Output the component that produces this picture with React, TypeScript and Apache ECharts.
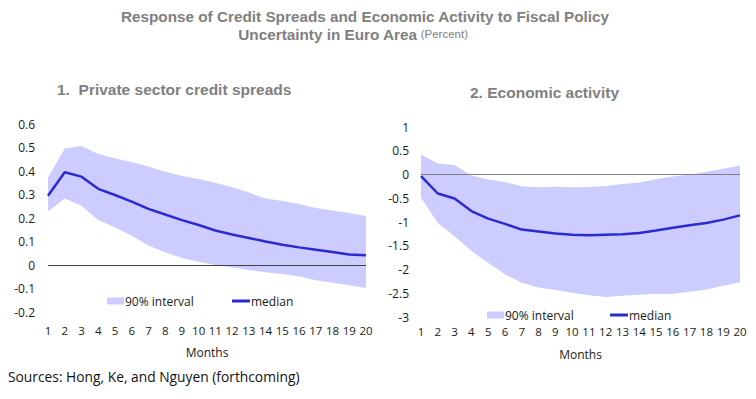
import React, { useEffect, useRef } from "react";
import * as echarts from "echarts";

const months = ["1", "2", "3", "4", "5", "6", "7", "8", "9", "10", "11", "12", "13", "14", "15", "16", "17", "18", "19", "20"];

const spreadMedian = [0.295, 0.395, 0.376, 0.324, 0.298, 0.27, 0.239, 0.215, 0.191, 0.17, 0.147, 0.13, 0.115, 0.1, 0.086, 0.075, 0.065, 0.055, 0.045, 0.041];
const spreadUpper = [0.372, 0.496, 0.506, 0.472, 0.454, 0.437, 0.419, 0.397, 0.379, 0.366, 0.35, 0.331, 0.308, 0.283, 0.272, 0.26, 0.243, 0.232, 0.221, 0.209];
const spreadLower = [0.228, 0.283, 0.252, 0.192, 0.161, 0.124, 0.083, 0.054, 0.03, 0.014, 0.0, -0.011, -0.021, -0.031, -0.038, -0.048, -0.065, -0.076, -0.086, -0.098];

const activityMedian = [-0.035, -0.4, -0.505, -0.77, -0.93, -1.04, -1.16, -1.2, -1.24, -1.27, -1.28, -1.27, -1.26, -1.23, -1.18, -1.12, -1.07, -1.02, -0.95, -0.86];
const activityUpper = [0.42, 0.23, 0.2, -0.02, -0.105, -0.16, -0.245, -0.27, -0.26, -0.27, -0.265, -0.24, -0.2, -0.17, -0.1, -0.04, 0.0, 0.06, 0.12, 0.19];
const activityLower = [-0.49, -1.02, -1.3, -1.61, -1.86, -2.1, -2.28, -2.38, -2.43, -2.49, -2.54, -2.58, -2.55, -2.53, -2.51, -2.51, -2.47, -2.42, -2.34, -2.27];

const spreadAxis = { min: -0.2, max: 0.6, interval: 0.1 };
const activityAxis = { min: -3, max: 1, interval: 0.5 };

const mainTitle = "Response of Credit Spreads and Economic Activity to Fiscal Policy";
const mainTitle2 = "Uncertainty in Euro Area";
const unitText = "(Percent)";
const panel1Title = "1.  Private sector credit spreads";
const panel2Title = "2. Economic activity";
const sourceText = "Sources: Hong, Ke, and Nguyen (forthcoming)";
const bandName = "90% interval";
const medianName = "median";

const BAND = "#ccccff";
const MEDIAN = "#2b2bd0";
const UI_FONT = "'Open Sans', 'Noto Sans', sans-serif";
const TITLE_FONT = "'Liberation Sans', Arial, sans-serif";

export default function App() {
  const ref = useRef<HTMLDivElement>(null);

  useEffect(() => {
    if (!ref.current) return;
    const chart = echarts.init(ref.current, undefined, { renderer: "svg" });

    const axisLabel = { color: "#1a1a1a", fontSize: 11.5, fontFamily: UI_FONT };
    const legendText = { color: "#1a1a1a", fontSize: 12, fontFamily: UI_FONT, padding: [0, 0, 0, -4] };

    const bandSeries = (idx: number, lower: number[], upper: number[]) => [
      {
        type: "line",
        name: "base" + idx,
        xAxisIndex: idx,
        yAxisIndex: idx,
        data: lower,
        stack: "band" + idx,
        stackStrategy: "all",
        symbol: "none",
        silent: true,
        lineStyle: { opacity: 0, width: 0 },
        z: 1,
      },
      {
        type: "line",
        name: bandName,
        xAxisIndex: idx,
        yAxisIndex: idx,
        data: upper.map((u, i) => +(u - lower[i]).toFixed(4)),
        stack: "band" + idx,
        stackStrategy: "all",
        symbol: "none",
        silent: true,
        lineStyle: { opacity: 0, width: 0 },
        itemStyle: { color: BAND },
        areaStyle: { color: BAND, opacity: 1 },
        z: 1,
      },
    ];

    const medianSeries = (idx: number, data: number[], zeroColor: string) => ({
      type: "line",
      name: medianName,
      xAxisIndex: idx,
      yAxisIndex: idx,
      data,
      symbol: "none",
      lineStyle: { color: MEDIAN, width: 2.5 },
      itemStyle: { color: MEDIAN },
      z: 3,
      markLine: {
        silent: true,
        symbol: "none",
        label: { show: false },
        lineStyle: { color: zeroColor, width: 1.2, type: "solid" },
        data: [{ yAxis: 0 }],
        z: 2,
      },
    });

    const bandLegend = (left: number, top: number) => ({
      left,
      top,
      itemWidth: 17,
      itemHeight: 7,
      selectedMode: false,
      textStyle: legendText,
      data: [{ name: bandName, icon: "rect" }],
    });
    const medianLegend = (left: number, top: number) => ({
      left,
      top,
      itemWidth: 18,
      itemHeight: 3,
      selectedMode: false,
      textStyle: legendText,
      data: [{ name: medianName, icon: "rect" }],
    });

    const option = {
      animation: false,
      backgroundColor: "#ffffff",
      textStyle: { fontFamily: UI_FONT },
      graphic: [
        {
          type: "text",
          x: 365,
          y: 16,
          style: {
            text: mainTitle,
            align: "center",
            verticalAlign: "middle",
            fill: "#7f7f7f",
            font: "bold 15.3px " + TITLE_FONT,
          },
        },
        {
          type: "text",
          x: 353,
          y: 34,
          style: {
            text: "{b|" + mainTitle2 + "} {s|" + unitText + "}",
            align: "center",
            verticalAlign: "middle",
            rich: {
              b: { fill: "#7f7f7f", font: "bold 15.3px " + TITLE_FONT },
              s: { fill: "#7f7f7f", font: "11.5px " + TITLE_FONT },
            },
          },
        },
        {
          type: "text",
          x: 57,
          y: 89,
          style: {
            text: panel1Title,
            align: "left",
            verticalAlign: "middle",
            fill: "#7f7f7f",
            font: "bold 15.5px " + TITLE_FONT,
          },
        },
        {
          type: "text",
          x: 470,
          y: 92,
          style: {
            text: panel2Title,
            align: "left",
            verticalAlign: "middle",
            fill: "#7f7f7f",
            font: "bold 15.5px " + TITLE_FONT,
          },
        },
        {
          type: "text",
          x: 8,
          y: 376,
          style: {
            text: sourceText,
            align: "left",
            verticalAlign: "middle",
            fill: "#111",
            font: "13.8px " + UI_FONT,
          },
        },
      ],
      legend: [
        bandLegend(102, 290),
        medianLegend(227, 290),
        bandLegend(482, 304),
        medianLegend(605, 304),
      ],
      grid: [
        { left: 48, top: 124, width: 318, height: 188 },
        { left: 421, top: 127, width: 319, height: 190 },
      ],
      xAxis: [
        {
          type: "category",
          gridIndex: 0,
          data: months,
          boundaryGap: false,
          axisLine: { show: false },
          axisTick: { show: false },
          axisLabel: { ...axisLabel, interval: 0, margin: 12 },
          name: "Months",
          nameLocation: "middle",
          nameGap: 34,
          nameTextStyle: { color: "#1a1a1a", fontSize: 12, fontFamily: UI_FONT },
        },
        {
          type: "category",
          gridIndex: 1,
          data: months,
          boundaryGap: false,
          axisLine: { show: false },
          axisTick: { show: false },
          axisLabel: { ...axisLabel, interval: 0, margin: 8 },
          name: "Months",
          nameLocation: "middle",
          nameGap: 31,
          nameTextStyle: { color: "#1a1a1a", fontSize: 12, fontFamily: UI_FONT },
        },
      ],
      yAxis: [
        {
          type: "value",
          gridIndex: 0,
          min: spreadAxis.min,
          max: spreadAxis.max,
          interval: spreadAxis.interval,
          axisLine: { show: false },
          axisTick: { show: false },
          splitLine: { show: false },
          axisLabel: {
            ...axisLabel,
            fontSize: 12,
            margin: 13,
            formatter: (v: number) => String(Number(v.toFixed(1))),
          },
        },
        {
          type: "value",
          gridIndex: 1,
          min: activityAxis.min,
          max: activityAxis.max,
          interval: activityAxis.interval,
          axisLine: { show: false },
          axisTick: { show: false },
          splitLine: { show: false },
          axisLabel: {
            ...axisLabel,
            fontSize: 12,
            margin: 12,
            formatter: (v: number) => String(Number(v.toFixed(1))),
          },
        },
      ],
      series: [
        ...bandSeries(0, spreadLower, spreadUpper),
        medianSeries(0, spreadMedian, "#404040"),
        ...bandSeries(1, activityLower, activityUpper),
        medianSeries(1, activityMedian, "#808080"),
      ],
    };

    chart.setOption(option as any);
    return () => chart.dispose();
  }, []);

  return (
    <div
      ref={ref}
      style={{ position: "absolute", left: 0, top: 0, width: 756, height: 399 }}
    />
  );
}
